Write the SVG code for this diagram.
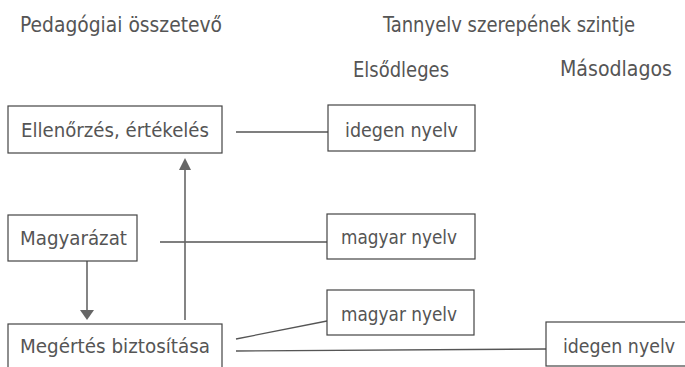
<svg xmlns="http://www.w3.org/2000/svg" width="685" height="367" viewBox="0 0 685 367">
<style>
text{font-family:"Liberation Sans Narrow","DejaVu Sans Condensed","Liberation Sans",sans-serif;font-size:20px;fill:#555;}
.h{font-size:21px;}
.box{fill:#fff;stroke:#444;stroke-width:1.2;}
.ln{stroke:#555;stroke-width:1.3;fill:none;}
.ar{stroke:#666;stroke-width:1.6;fill:none;}
.hd{fill:#666;}
</style>
<rect width="685" height="367" fill="#fff"/>
<g id="headers">
<text class="h" x="20" y="32" textLength="202" lengthAdjust="spacingAndGlyphs">Pedagógiai összetevő</text>
<text class="h" x="383" y="32" textLength="252" lengthAdjust="spacingAndGlyphs">Tannyelv szerepének szintje</text>
<text class="h" x="353" y="77" textLength="96" lengthAdjust="spacingAndGlyphs">Elsődleges</text>
<text class="h" x="560" y="76" textLength="112" lengthAdjust="spacingAndGlyphs">Másodlagos</text>
</g>
<g id="connectors">
<line class="ln" x1="236" y1="132" x2="328" y2="132"/>
<line class="ln" x1="160" y1="242" x2="327" y2="242"/>
<line class="ln" x1="236" y1="339" x2="327" y2="321"/>
<line class="ln" x1="236" y1="351" x2="546" y2="349"/>
<line class="ar" x1="87" y1="261" x2="87" y2="311"/>
<polygon class="hd" points="80,310 94,310 87,320"/>
<line class="ar" x1="185" y1="320" x2="185" y2="168"/>
<polygon class="hd" points="179,170 191,170 185,158"/>
</g>
<g id="n-ellenorzes">
<rect class="box" x="8" y="106" width="214" height="47"/>
<text x="21" y="137" textLength="188" lengthAdjust="spacingAndGlyphs">Ellenőrzés, értékelés</text>
</g>
<g id="n-magyarazat">
<rect class="box" x="8" y="215" width="129" height="46"/>
<text x="20" y="245" textLength="107" lengthAdjust="spacingAndGlyphs">Magyarázat</text>
</g>
<g id="n-megertes">
<rect class="box" x="8" y="324" width="214" height="60"/>
<text x="20" y="353" textLength="190" lengthAdjust="spacingAndGlyphs">Megértés biztosítása</text>
</g>
<g id="n-idegen1">
<rect class="box" x="328" y="105" width="147" height="46"/>
<text x="345" y="137" textLength="113" lengthAdjust="spacingAndGlyphs">idegen nyelv</text>
</g>
<g id="n-magyar1">
<rect class="box" x="327" y="214" width="148" height="45"/>
<text x="341" y="244" textLength="116" lengthAdjust="spacingAndGlyphs">magyar nyelv</text>
</g>
<g id="n-magyar2">
<rect class="box" x="327" y="290" width="147" height="45"/>
<text x="341" y="321" textLength="116" lengthAdjust="spacingAndGlyphs">magyar nyelv</text>
</g>
<g id="n-idegen2">
<rect class="box" x="546" y="322" width="150" height="44"/>
<text x="563" y="353" textLength="112" lengthAdjust="spacingAndGlyphs">idegen nyelv</text>
</g>
</svg>
